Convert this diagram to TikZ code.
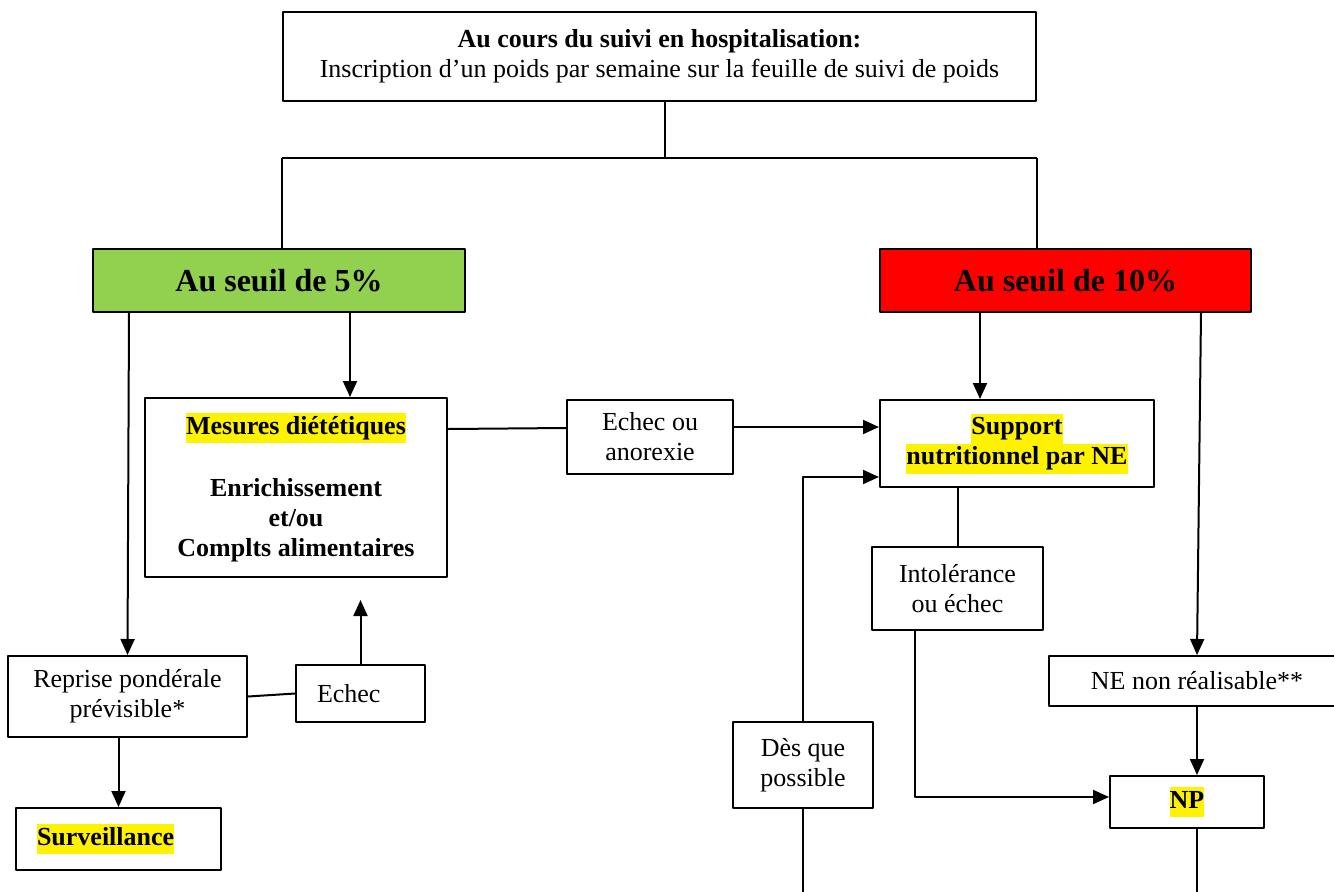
\documentclass[tikz,border=0pt]{standalone}
\usepackage{fontspec}
\setmainfont{Liberation Serif}
\usetikzlibrary{arrows.meta}
\definecolor{vertseuil}{HTML}{92D050}
\newcommand{\surligne}[1]{{\setlength{\fboxsep}{0pt}\colorbox{yellow}{\strut#1}}}
\begin{document}
\begin{tikzpicture}[x=1pt,y=-1pt,line width=2pt,line join=round,
	boite/.style={rectangle,draw,inner sep=2pt,align=center,font=\fontsize{26}{30}\selectfont},
	gauche/.style={boite,align=left,inner xsep=21pt},
	seuil/.style={boite,font=\fontsize{32}{38}\selectfont\bfseries},
	fl/.style={-{Triangle[length=16pt,width=14pt]}}]
	\useasboundingbox(0,0)rectangle(1334,892);
	\path(659.5,56.5)node[boite,minimum width=753pt,minimum height=89pt](top){\textbf{Au cours du suivi en hospitalisation:}\\Inscription d’un poids par semaine sur la feuille de suivi de poids}%Niveau 0
	;
	\path%Niveau 1
	(279,280.5)node[seuil,fill=vertseuil,minimum width=372pt,minimum height=63pt](g5){Au seuil de 5\%}
	(1065.5,280.5)node[seuil,fill=red,minimum width=371pt,minimum height=63pt](g10){Au seuil de 10\%}
	;
	\path%Niveau 2 gauche
	(296,487.5)node[boite,minimum width=302pt,minimum height=179pt,font=\fontsize{26}{30}\selectfont\bfseries](mes){\surligne{Mesures diététiques}\\[32pt]Enrichissement\\et/ou\\Complts alimentaires}
	(650,437)node[boite,minimum width=166pt,minimum height=74pt](echA){Echec ou\\anorexie}
	;
	\path%Niveau 2 droite
	(1017,443.5)node[boite,minimum width=274pt,minimum height=87pt,font=\fontsize{26}{30}\selectfont\bfseries](sup){\surligne{Support}\\\surligne{nutritionnel par NE}}
	(957.5,588.5)node[boite,minimum width=171pt,minimum height=83pt](intol){Intolérance\\ou échec}
	(1197,681)node[boite,minimum width=296pt,minimum height=50pt](nenr){NE non réalisable**}
	;
	\path%Niveau 3
	(127.5,696.5)node[boite,minimum width=239pt,minimum height=81pt](rep){Reprise pondérale\\prévisible*}
	(360.5,693.5)node[gauche,text width=87pt,minimum height=57pt](ech){Echec}
	(118.5,839)node[gauche,text width=163pt,minimum height=62pt,font=\fontsize{26}{30}\selectfont\bfseries](surv){\surligne{Surveillance}}
	(803,765)node[boite,minimum width=140pt,minimum height=86pt](des){Dès que\\possible}
	(1187,802)node[boite,minimum width=154pt,minimum height=52pt,font=\fontsize{26}{30}\selectfont\bfseries](np){\surligne{NP}}
	;
	\coordinate(spl)at(0,158);
	\coordinate(bas)at(0,900);
	\coordinate(echbout)at(360.5,600);
	%Traits
	\draw([xshift=5.5pt]top.south)--([xshift=5.5pt]top.south|-spl);
	\draw(top.south west|-spl)--(top.south east|-spl);
	\draw(top.south west|-spl)--(top.south west|-g5.north);
	\draw(top.south east|-spl)--(top.south east|-g10.north);
	%%%
	\draw[fl]([xshift=37pt]g5.south west)--(rep.north);
	\draw[fl]([xshift=54pt]mes.north|-g5.south)--([xshift=54pt]mes.north);
	\draw([yshift=-32pt]mes.north east)--([yshift=9pt]echA.west);
	\draw[fl]([yshift=10pt]echA.east)--([yshift=10pt]echA.east-|sup.west);
	\draw[fl]([xshift=-37pt]sup.north|-g10.south)--([xshift=-37pt]sup.north);
	\draw[fl]([xshift=-51pt]g10.south east)--(nenr.north);
	%%%
	\draw(intol.north|-sup.south)--(intol.north);
	\draw[fl]([xshift=-42.5pt]intol.south)|-([yshift=5pt]np.west);
	\draw[fl](nenr.south)--(nenr.south|-np.north);
	\draw(nenr.south|-np.south)--(nenr.south|-bas);
	\draw[fl](des.north)|-([yshift=-33.5pt]sup.west);
	\draw(des.south)--(des.south|-bas);
	%%%
	\draw(rep.east)--(ech.west);
	\draw[fl](ech.north)--(echbout);
	\draw[fl](surv.north|-rep.south)--(surv.north);
\end{tikzpicture}
\end{document}
